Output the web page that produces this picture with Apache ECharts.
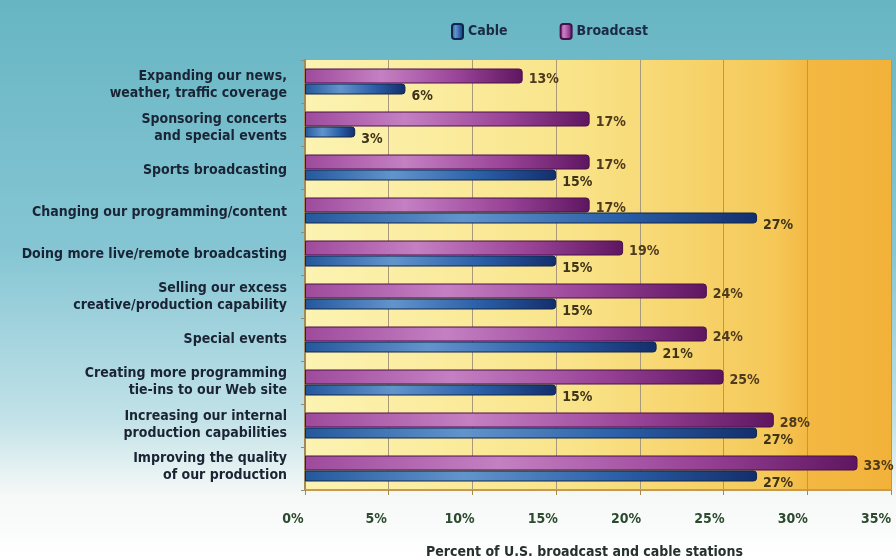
<!DOCTYPE html>
<html><head><meta charset="utf-8">
<script src="https://cdn.jsdelivr.net/npm/echarts@6/dist/echarts.min.js"></script>
<style>html,body{margin:0;padding:0;}#c{width:896px;height:560px;}</style>
</head><body><div id="c"></div>
<script>
const categories = [
  'Expanding our news,\nweather, traffic coverage',
  'Sponsoring concerts\nand special events',
  'Sports broadcasting',
  'Changing our programming/content',
  'Doing more live/remote broadcasting',
  'Selling our excess\ncreative/production capability',
  'Special events',
  'Creating more programming\ntie-ins to our Web site',
  'Increasing our internal\nproduction capabilities',
  'Improving the quality\nof our production'
];
const broadcast = [13, 17, 17, 17, 19, 24, 24, 25, 28, 33];
const cable = [6, 3, 15, 27, 15, 15, 21, 15, 27, 27];
const tickLabels = ['0%', '5%', '10%', '15%', '20%', '25%', '30%', '35%'];

const FONT = "'Liberation Sans Narrow','DejaVu Sans Condensed','Liberation Sans',sans-serif";
const chart = echarts.init(document.getElementById('c'));

function grad(stops) {
  return { type: 'linear', x: 0, y: 0, x2: 1, y2: 0, colorStops: stops.map((c) => ({ offset: c[0], color: c[1] })) };
}

chart.setOption({
  animation: false,
  graphic: [{
    type: 'rect', z: -10, silent: true,
    shape: { x: 0, y: 0, width: 896, height: 560 },
    style: { fill: { type: 'linear', x: 0, y: 0, x2: 0, y2: 1, colorStops: [
      { offset: 0, color: '#67b5c3' }, { offset: 0.45, color: '#86c6d4' },
      { offset: 0.75, color: '#c2e2e8' }, { offset: 0.88, color: '#f4f8f6' }, { offset: 1, color: '#ffffff' }] } }
  }],
  legend: {
    top: 18, left: 446, itemWidth: 11, itemHeight: 15, itemGap: 52,
    icon: 'roundRect',
    data: ['Cable', 'Broadcast'],
    textStyle: { fontFamily: FONT, fontSize: 14, fontWeight: 'bold', color: '#1c2a44' }
  },
  grid: [
    { left: 305, right: 5, top: 60, bottom: 70, show: true, borderWidth: 0, outerBoundsMode: 'none',
      backgroundColor: grad([[0, '#fcf3b2'], [0.45, '#f9e48a'], [0.8, '#f5c858'], [0.86, '#f3b842'], [1, '#f2b23a']]) },
    { left: 293, right: 20, top: 64, bottom: 72, show: false, outerBoundsMode: 'none' }
  ],
  xAxis: [
    { gridIndex: 0, type: 'value', min: 0, max: 35, interval: 5,
      axisLabel: { show: false },
      axisLine: { show: true, lineStyle: { color: '#c89a50', width: 2 } },
      axisTick: { show: true, length: 5, lineStyle: { color: '#a88850' } },
      splitLine: { show: true, lineStyle: { color: '#a89a78', width: 1 } } },
    { gridIndex: 1, type: 'value', min: 0, max: 35, interval: 5,
      axisLine: { show: false }, axisTick: { show: false }, splitLine: { show: false },
      axisLabel: { margin: 24, fontFamily: FONT, fontSize: 14, fontWeight: 'bold', color: '#2b4a2e',
        formatter: (v) => tickLabels[Math.round(v / 5)] },
      name: 'Percent of U.S. broadcast and cable stations', nameLocation: 'middle', nameGap: 57,
      nameTextStyle: { fontFamily: FONT, fontSize: 14, fontWeight: 'bold', color: '#26302c' } }
  ],
  yAxis: [
    { gridIndex: 0, type: 'category', inverse: true, data: categories,
      axisLine: { show: true, lineStyle: { color: '#a08a60', width: 2 } },
      axisTick: { show: true, length: 4, lineStyle: { color: '#a08a60' } },
      axisLabel: { show: false } },
    { gridIndex: 1, type: 'category', inverse: true, data: categories,
      axisLine: { show: false }, axisTick: { show: false },
      axisLabel: { margin: 6, fontFamily: FONT, fontSize: 14, fontWeight: 'bold', color: '#1a2434', lineHeight: 17, align: 'right' } }
  ],
  series: [
    { name: 'Broadcast', type: 'bar', xAxisIndex: 0, yAxisIndex: 0, data: broadcast,
      barWidth: 15, barGap: '0%',
      itemStyle: { color: grad([[0, '#9e4a9c'], [0.35, '#c480c2'], [0.7, '#9a4498'], [1, '#5e1660']]),
        borderColor: '#4a1048', borderWidth: 1, borderRadius: [0, 3, 3, 0] },
      label: { show: true, position: 'right', distance: 6, offset: [0, 3], formatter: '{c}%',
        fontFamily: FONT, fontSize: 14, fontWeight: 'bold', color: '#4e3a1c' } },
    { name: 'Cable', type: 'bar', xAxisIndex: 0, yAxisIndex: 0, data: cable,
      barWidth: 11,
      itemStyle: { color: grad([[0, '#24589c'], [0.35, '#6294cc'], [0.7, '#2a5ea6'], [1, '#142e6c']]),
        borderColor: '#10264e', borderWidth: 1, borderRadius: [0, 3, 3, 0] },
      label: { show: true, position: 'right', distance: 6, offset: [0, 7], formatter: '{c}%',
        fontFamily: FONT, fontSize: 14, fontWeight: 'bold', color: '#3e3418' } }
  ]
});
</script></body></html>
